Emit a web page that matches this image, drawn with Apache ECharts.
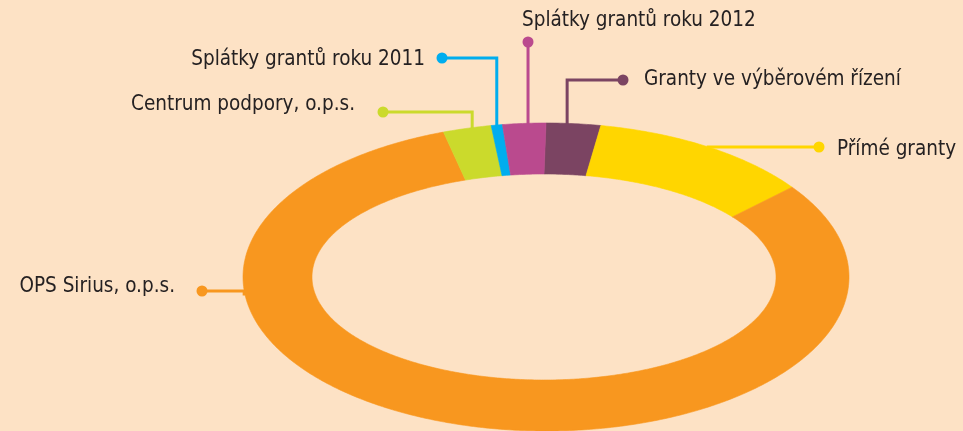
<!DOCTYPE html>
<html><head><meta charset="utf-8">
<script src="https://cdn.jsdelivr.net/npm/echarts@6/dist/echarts.min.js"></script>
<style>html,body{margin:0;padding:0;background:#FDE2C5;} #c{width:963px;height:431px;}</style>
</head><body><div id="c"></div>
<script>
// ---- data ----
const categories = ['Granty ve výběrovém řízení', 'Přímé granty', 'OPS Sirius, o.p.s.', 'Centrum podpory, o.p.s.', 'Splátky grantů roku 2011', 'Splátky grantů roku 2012'];
const values = [2.9, 12.2, 79.5, 2.6, 0.6, 2.3];

// ---- styles / layout ----
const colors = ['#7B4462', '#FFD600', '#F8971F', '#CBDA2C', '#00ADEE', '#BA4A8E'];
const ring = {cx: 546, cy: 277, a: 303, b: 154, icx: 544, icy: 277, ia: 232, ib: 103};
const labelLayout = [
  {dot: [623, 80], text: [644, 80], align: 'left', angle: 4.0},
  {dot: [819, 147], text: [837, 150], align: 'left'},
  {dot: [202, 291], text: [175, 287], align: 'right', angle: 265},
  {dot: [383, 112], text: [355, 105], align: 'right', angle: 345.9},
  {dot: [442, 58], text: [425, 60], align: 'right'},
  {dot: [null, 42], text: [522, 21], align: 'left', angle: 356.6}
];
const FONT = '"DejaVu Sans Condensed", "Liberation Sans Narrow", sans-serif';

const total = values.reduce((s, v) => s + v, 0);

function renderItem(params, api) {
  const i = params.dataIndex;
  let start = 0;
  for (let k = 0; k < i; k++) start += values[k];
  const t0 = start / total * 2 * Math.PI;
  const t1 = (start + api.value(0)) / total * 2 * Math.PI;
  const n = Math.max(2, Math.ceil((t1 - t0) / 0.01));
  const pts = [];
  for (let k = 0; k <= n; k++) {
    const t = t0 + (t1 - t0) * k / n;
    pts.push([ring.cx + ring.a * Math.sin(t), ring.cy - ring.b * Math.cos(t)]);
  }
  for (let k = n; k >= 0; k--) {
    const t = t0 + (t1 - t0) * k / n;
    pts.push([ring.icx + ring.ia * Math.sin(t), ring.icy - ring.ib * Math.cos(t)]);
  }
  const L = labelLayout[i];
  const ta = L.angle != null ? L.angle * Math.PI / 180 : (t0 + t1) / 2;
  const ax = ring.cx + ring.a * Math.sin(ta);
  const ay = ring.cy - ring.b * Math.cos(ta);
  const dx = L.dot[0] == null ? ax : L.dot[0];
  const dy = L.dot[1];
  const col = colors[i];
  return {
    type: 'group',
    children: [
      {type: 'polygon', shape: {points: pts}, style: {fill: col, stroke: col, lineWidth: 0.6}, z2: 10},
      {type: 'polyline', shape: {points: [[dx, dy], [ax, dy], [ax, ay + 5]]}, style: {stroke: col, lineWidth: 3, fill: null}, z2: 5},
      {type: 'circle', shape: {cx: dx, cy: dy, r: 5.5}, style: {fill: col}, z2: 6},
      {type: 'text', x: L.text[0], y: L.text[1], style: {text: categories[i], fill: '#252122', fontSize: 20.5, fontFamily: FONT, align: L.align, verticalAlign: 'middle'}, z2: 20}
    ]
  };
}

const chart = echarts.init(document.getElementById('c'), null, {renderer: 'canvas'});
chart.setOption({
  backgroundColor: '#FDE2C5',
  animation: false,
  series: [{
    type: 'custom',
    coordinateSystem: 'none',
    renderItem: renderItem,
    data: values.map((v, i) => ({value: v, name: categories[i]}))
  }]
});
</script>
</body></html>
